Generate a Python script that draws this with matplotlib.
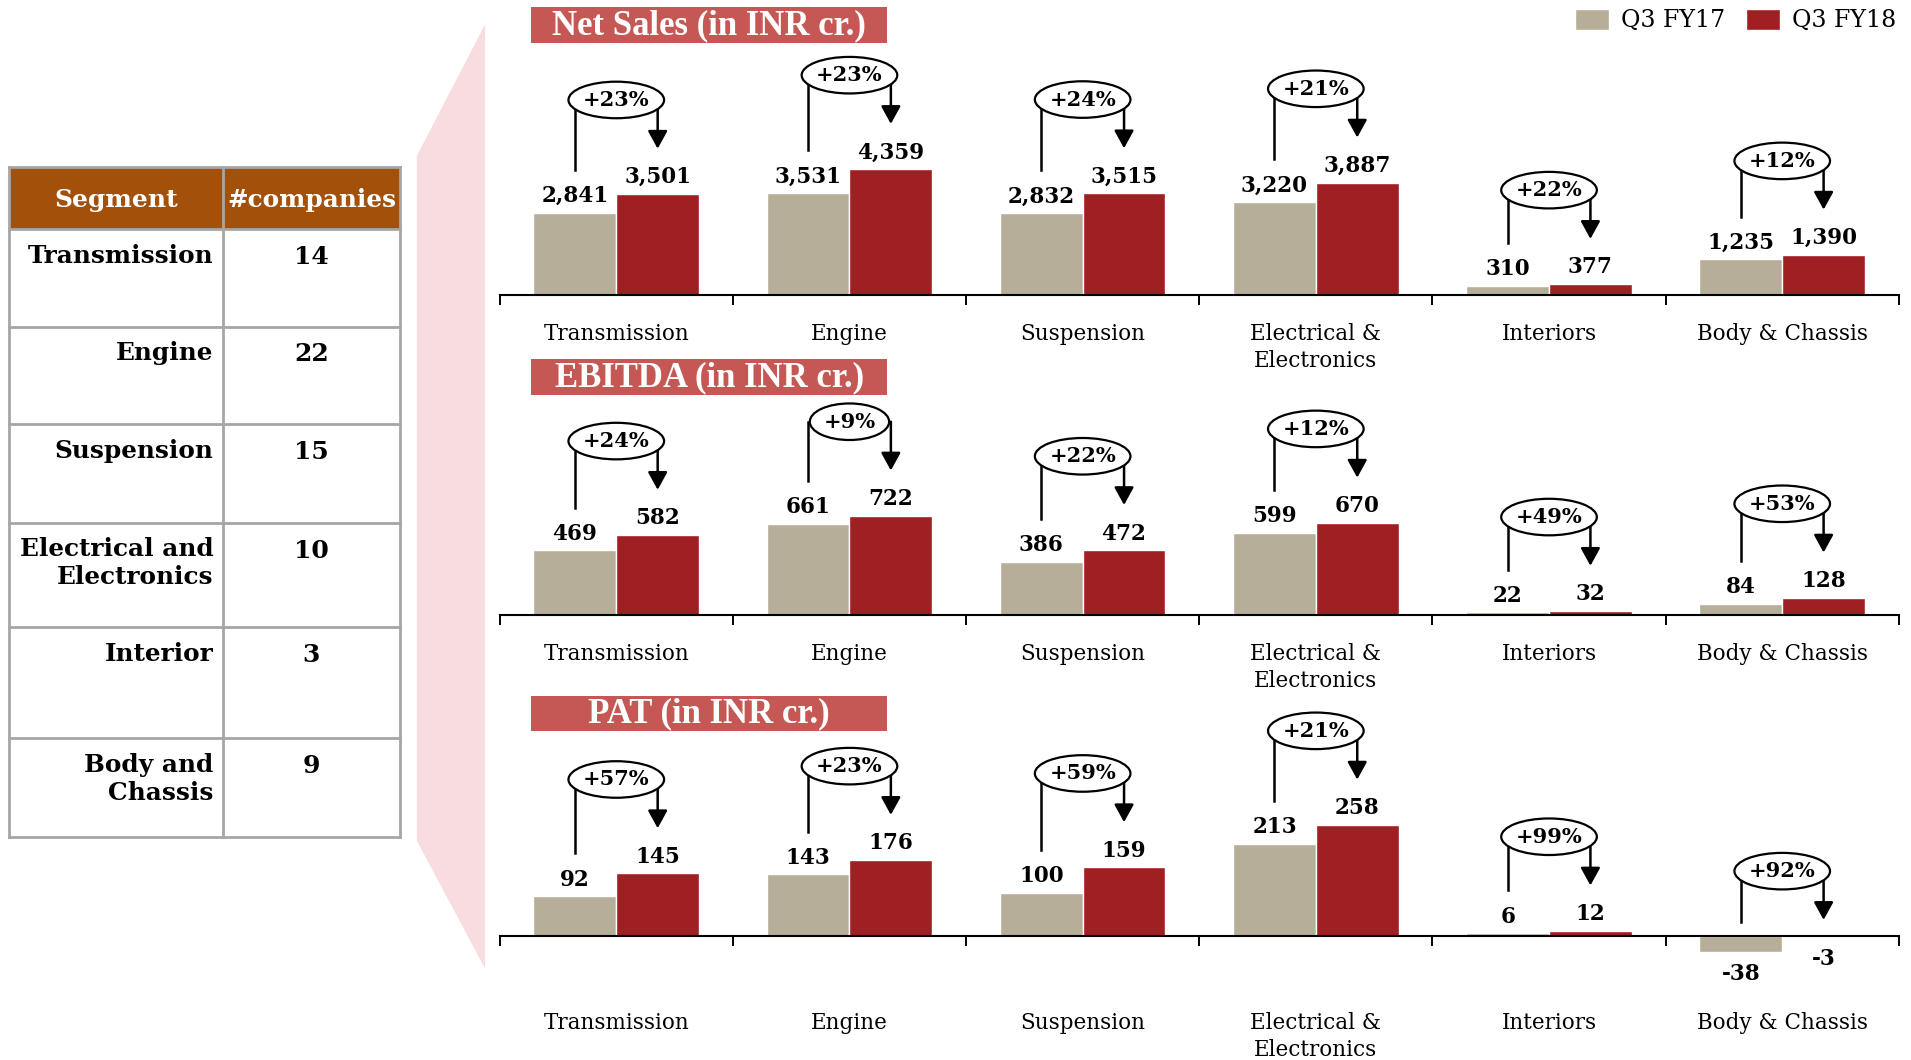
import numpy as np
import matplotlib.pyplot as plt
from matplotlib.patches import Ellipse, Rectangle, Polygon

plt.rcParams['font.family'] = ['DejaVu Serif']

# data
categories = ['Transmission', 'Engine', 'Suspension', 'Electrical &\nElectronics', 'Interiors', 'Body & Chassis']
series = ['Q3 FY17', 'Q3 FY18']

sales_fy17 = [2841, 3531, 2832, 3220, 310, 1235]
sales_fy18 = [3501, 4359, 3515, 3887, 377, 1390]
sales_growth = ['+23%', '+23%', '+24%', '+21%', '+22%', '+12%']

ebitda_fy17 = [469, 661, 386, 599, 22, 84]
ebitda_fy18 = [582, 722, 472, 670, 32, 128]
ebitda_growth = ['+24%', '+9%', '+22%', '+12%', '+49%', '+53%']

pat_fy17 = [92, 143, 100, 213, 6, -38]
pat_fy18 = [145, 176, 159, 258, 12, -3]
pat_growth = ['+57%', '+23%', '+59%', '+21%', '+99%', '+92%']

segments = ['Transmission', 'Engine', 'Suspension', 'Electrical and\nElectronics', 'Interior', 'Body and\nChassis']
companies = [14, 22, 15, 10, 3, 9]

GREY = '#B6AE98'
RED = '#A01F22'
TITLE_BG = '#C55854'
HEADER_BG = '#A3500A'
PINK = '#F8DCE0'
GRID = '#A6A6A6'

W, H = 1568, 870  # layout units (figure pixels / 1.2188)

fig = plt.figure(figsize=(19.11, 10.60), dpi=100)

# overlay for table, titles and the pink callout
ov = fig.add_axes([0, 0, 1, 1], zorder=-1)
ov.set_xlim(0, W)
ov.set_ylim(H, 0)
ov.axis('off')

ov.add_patch(Polygon([(342, 128), (398, 20), (398, 795), (342, 690)], closed=True,
                     facecolor=PINK, edgecolor='none'))

# table
tl, tm, tr = 7, 183, 328
row_lines = [137, 188, 268, 348, 429, 515, 606, 687]
ov.add_patch(Rectangle((tl, row_lines[0]), tr - tl, row_lines[1] - row_lines[0],
                       facecolor=HEADER_BG, edgecolor='none'))
for y in row_lines:
    ov.plot([tl, tr], [y, y], color=GRID, lw=2, solid_capstyle='projecting')
for x in [tl, tm, tr]:
    ov.plot([x, x], [row_lines[0], row_lines[-1]], color=GRID, lw=2, solid_capstyle='projecting')
hy = (row_lines[0] + row_lines[1]) / 2 + 2
ov.text((tl + tm) / 2, hy, 'Segment', color='white', fontsize=18, fontweight='bold',
        ha='center', va='center')
ov.text((tm + tr) / 2, hy, '#companies', color='white', fontsize=17.8, fontweight='bold',
        ha='center', va='center')
for k, (seg, n) in enumerate(zip(segments, companies)):
    top = row_lines[k + 1]
    ov.text(tm - 8, top + 12, seg, fontsize=17.8, fontweight='bold', ha='right', va='top',
            multialignment='right', linespacing=1.2)
    ov.text((tm + tr) / 2, top + 13, str(n), fontsize=18, fontweight='bold', ha='center', va='top')

# panels: title, values, growth, title y, axes top / baseline / bottom (layout px), units per px, label pad
panels = [
    ('Net Sales (in INR cr.)', sales_fy17, sales_fy18, sales_growth, 6, 40, 242, 262, 42.2, 20),
    ('EBITDA (in INR cr.)', ebitda_fy17, ebitda_fy18, ebitda_growth, 295, 330, 505, 525, 8.82, 20),
    ('PAT (in INR cr.)', pat_fy17, pat_fy18, pat_growth, 571, 605, 768, 798, 2.83, 55),
]

ax_left, ax_right = 410, 1558
bw = 0.355
x = np.arange(len(categories))
handles = None

for title, a_vals, b_vals, growth, ty, top, base, bot, u, pad in panels:
    ov.add_patch(Rectangle((436, ty), 292, 29, facecolor=TITLE_BG, edgecolor='none'))
    ov.text(582, ty + 15, title, color='white', fontsize=25, fontweight='bold',
            family='Liberation Serif', ha='center', va='center')

    ax = fig.add_axes([ax_left / W, 1 - bot / H, (ax_right - ax_left) / W, (bot - top) / H])
    ax.patch.set_visible(False)
    ax.set_xlim(-0.5, 5.5)
    ax.set_ylim(-(bot - base) * u, (base - top) * u)

    g = ax.bar(x - bw / 2, a_vals, bw, color=GREY, edgecolor='white', lw=1, zorder=2)
    r = ax.bar(x + bw / 2, b_vals, bw, color=RED, edgecolor='white', lw=1, zorder=2)
    if handles is None:
        handles = [g, r]

    for spine in ['top', 'left', 'right']:
        ax.spines[spine].set_visible(False)
    ax.spines['bottom'].set_position(('data', 0))
    ax.spines['bottom'].set_linewidth(1.5)
    ax.spines['bottom'].set_zorder(3)
    ax.set_yticks([])
    ax.set_xticks(x, categories)
    ax.set_xticks(np.arange(-0.5, 6, 1), minor=True)
    ax.tick_params(axis='x', which='major', length=0, pad=pad, labelsize=15.5)
    ax.tick_params(axis='x', which='minor', length=7, width=1.4, direction='out')
    for lab in ax.get_xticklabels():
        lab.set_linespacing(1.3)

    for i in range(len(categories)):
        for xv, v in ((i - bw / 2, a_vals[i]), (i + bw / 2, b_vals[i])):
            if v >= 0:
                ax.annotate(f'{v:,}', (xv, v), xytext=(0, 4), textcoords='offset points',
                            ha='center', va='bottom', fontsize=15.5, fontweight='bold')
            else:
                ax.annotate(f'{v:,}', (xv, v), xytext=(0, -8), textcoords='offset points',
                            ha='center', va='top', fontsize=15.5, fontweight='bold')

        # growth bracket
        a, b = a_vals[i], b_vals[i]
        xg, xr = i - bw / 2, i + bw / 2
        g_obst = a + 24 * u if a > 0 else 0
        r_obst = b + 24 * u if b > 0 else 0
        yc = r_obst + 53 * u
        ax.plot([xg, xg], [g_obst + 11 * u, yc], color='black', lw=1.8, clip_on=False, zorder=3)
        ax.annotate('', xy=(xr, r_obst + 13 * u), xytext=(xr, yc),
                    arrowprops=dict(arrowstyle='-|>,head_length=0.4,head_width=0.22',
                                    mutation_scale=27, lw=1.8, color='black',
                                    shrinkA=0, shrinkB=0),
                    annotation_clip=False, zorder=3)
        ew = 0.07 * len(growth[i]) + 0.13
        ax.add_patch(Ellipse((i, yc), ew, 30 * u, facecolor='white', edgecolor='black',
                             lw=1.6, zorder=4, clip_on=False))
        ax.text(i, yc, growth[i], ha='center', va='center', fontsize=15, fontweight='bold',
                zorder=5, clip_on=False)

fig.legend(handles, series, loc='upper right', bbox_to_anchor=(1556 / W, 1 - 7 / H),
           ncol=2, frameon=False, fontsize=17, handlelength=1.45, handleheight=1.0,
           handletextpad=0.5, columnspacing=0.9, borderpad=0, borderaxespad=0)

fig.savefig('out.png', dpi=100)
